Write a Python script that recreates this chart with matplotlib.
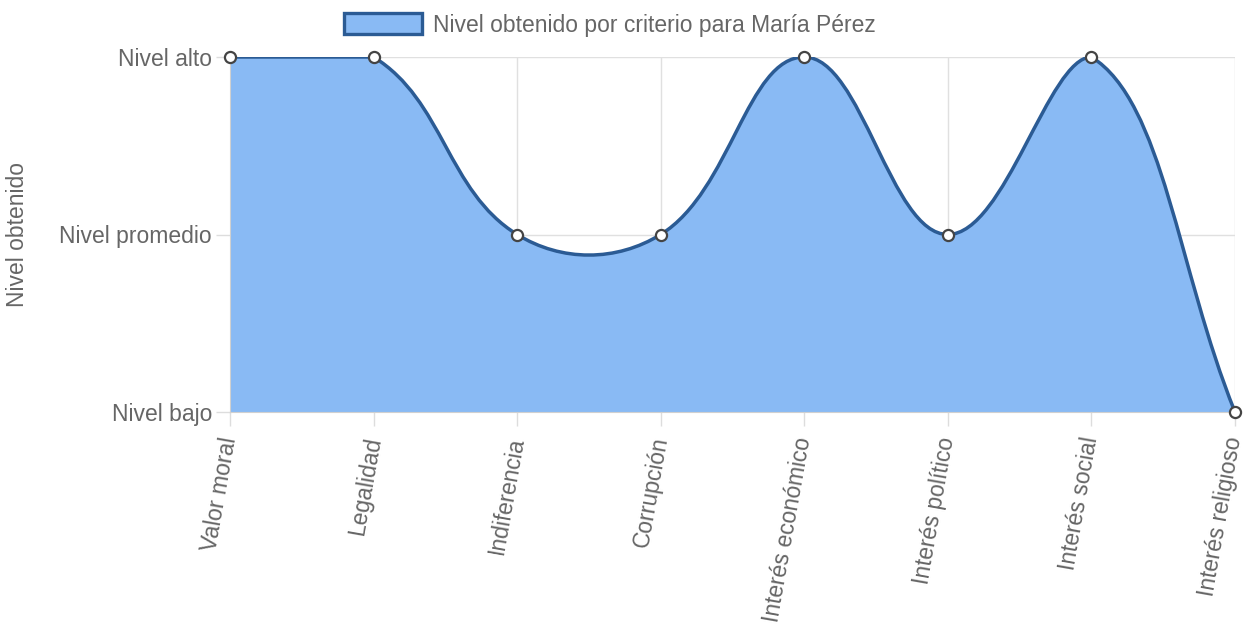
import numpy as np
import matplotlib
matplotlib.use("Agg")
import matplotlib.pyplot as plt
from matplotlib.path import Path
from matplotlib.patches import PathPatch, Patch

plt.rcParams['font.family'] = ['Liberation Sans', 'DejaVu Sans']

criterios = ["Valor moral", "Legalidad", "Indiferencia", "Corrupción",
             "Interés económico", "Interés político", "Interés social", "Interés religioso"]
niveles = [3, 3, 2, 2, 3, 2, 3, 1]
nivel_labels = ["Nivel bajo", "Nivel promedio", "Nivel alto"]
serie = "Nivel obtenido por criterio para María Pérez"

W, H = 1246, 625
fs = 16.5
fig = plt.figure(figsize=(W / 100, H / 100), dpi=100)
ax = fig.add_axes([230 / W, 1 - 412 / H, 1005 / W, 355 / H])

x = np.arange(len(criterios), dtype=float)
y = np.array(niveles, dtype=float)

# chart.js style spline (tension 0.4), computed in pixel space
sx = 1005 / (len(criterios) - 1)
sy = 355 / 2.0
t = 0.4
cps = []
n = len(x)
for i in range(n):
    p = i - 1 if i > 0 else i
    q = i + 1 if i < n - 1 else i
    d01 = np.hypot((x[i] - x[p]) * sx, (y[i] - y[p]) * sy)
    d12 = np.hypot((x[q] - x[i]) * sx, (y[q] - y[i]) * sy)
    tot = d01 + d12
    s01 = d01 / tot if tot else 0
    s12 = d12 / tot if tot else 0
    fa, fb = t * s01, t * s12
    c1 = (x[i] - fa * (x[q] - x[p]), y[i] - fa * (y[q] - y[p]))
    c2 = (x[i] + fb * (x[q] - x[p]), y[i] + fb * (y[q] - y[p]))
    # keep control points inside the chart area
    c1 = (min(max(c1[0], 0), n - 1), min(max(c1[1], 1), 3))
    c2 = (min(max(c2[0], 0), n - 1), min(max(c2[1], 1), 3))
    cps.append((c1, c2))

verts = [(x[0], y[0])]
codes = [Path.MOVETO]
for i in range(n - 1):
    verts += [cps[i][1], cps[i + 1][0], (x[i + 1], y[i + 1])]
    codes += [Path.CURVE4] * 3
line_path = Path(verts, codes)
fill_path = Path(verts + [(x[-1], 1), (x[0], 1), (x[0], y[0])],
                 codes + [Path.LINETO, Path.LINETO, Path.CLOSEPOLY])

fill_c = "#89baf4"
line_c = "#2b5b94"
ax.add_patch(PathPatch(fill_path, facecolor=fill_c, edgecolor="none", zorder=2))
ax.add_patch(PathPatch(line_path, facecolor="none", edgecolor=line_c, lw=2.5, zorder=3,
                       capstyle="round", joinstyle="round"))
ax.plot(x, y, "o", ms=8, mfc="white", mec="#444444", mew=1.6, zorder=4, clip_on=False)

ax.set_xlim(0, n - 1)
ax.set_ylim(1, 3)
ax.set_yticks([1, 2, 3])
ax.set_yticklabels(nivel_labels, fontsize=fs, color="#666666")
ax.set_xticks(x)
ax.set_xticklabels(criterios, rotation=80, ha="right", va="center", rotation_mode="anchor",
                   fontsize=fs, color="#666666")
ax.tick_params(axis="both", length=10, color="#dddddd", width=1, pad=3)
ax.tick_params(axis="x", pad=8)
ax.grid(True, color="#e0e0e0", lw=1, zorder=1)
ax.set_axisbelow(True)
for s in ["top", "right"]:
    ax.spines[s].set_visible(False)
for s in ["left", "bottom"]:
    ax.spines[s].set_color("#d0d0d0")
ax.set_ylabel("Nivel obtenido", fontsize=fs, color="#666666")
ax.yaxis.set_label_coords(-0.200, 0.5)

handle = Patch(facecolor=fill_c, edgecolor=line_c, lw=2.4)
fig.legend([handle], [serie], loc="center", bbox_to_anchor=(610 / W, 1 - 25 / H),
           frameon=False, fontsize=fs, labelcolor="#666666",
           handlelength=3.4, handleheight=1.0, handletextpad=0.5)

fig.savefig("out.png", dpi=100)
